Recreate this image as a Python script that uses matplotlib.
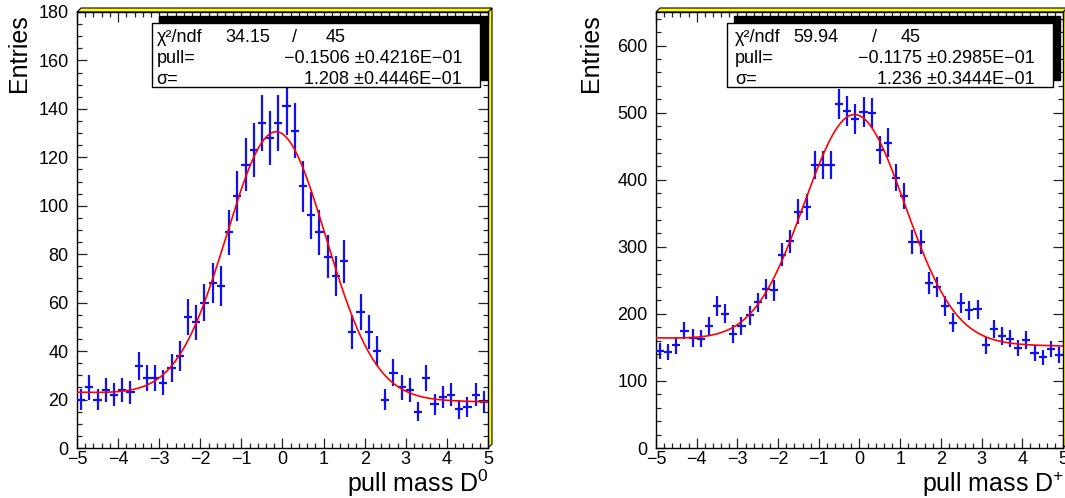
import numpy as np
import matplotlib.pyplot as plt
from matplotlib.patches import Polygon, Rectangle

plt.rcParams['font.family'] = ['Liberation Sans', 'DejaVu Sans']
plt.rcParams['mathtext.fontset'] = 'custom'
plt.rcParams['mathtext.rm'] = 'Liberation Sans'
plt.rcParams['mathtext.it'] = 'Liberation Sans'

W, H = 1065, 498

# bin centres of the pull histograms (50 bins from -5 to 5)
pull_bins = [-4.9, -4.7, -4.5, -4.3, -4.1, -3.9, -3.7, -3.5, -3.3, -3.1,
             -2.9, -2.7, -2.5, -2.3, -2.1, -1.9, -1.7, -1.5, -1.3, -1.1,
             -0.9, -0.7, -0.5, -0.3, -0.1, 0.1, 0.3, 0.5, 0.7, 0.9,
             1.1, 1.3, 1.5, 1.7, 1.9, 2.1, 2.3, 2.5, 2.7, 2.9,
             3.1, 3.3, 3.5, 3.7, 3.9, 4.1, 4.3, 4.5, 4.7, 4.9]

# entries
d0_entries = [20, 25, 20, 24, 22, 24, 23, 34, 29, 29,
              27, 33, 38, 54, 52, 60, 68, 67, 89, 104,
              117, 123, 134, 128, 134, 141, 131, 108, 96, 89,
              79, 71, 77, 48, 56, 48, 40, 20, 31, 25,
              24, 15, 29, 18, 21, 22, 16, 17, 22, 19]
dplus_entries = [144, 143, 153, 175, 164, 163, 182, 212, 200, 170,
                 182, 198, 217, 237, 235, 288, 308, 352, 359, 422,
                 422, 422, 513, 503, 490, 501, 499, 444, 455, 403,
                 376, 307, 307, 246, 240, 212, 187, 216, 205, 207,
                 153, 178, 167, 163, 149, 161, 142, 135, 148, 139]

# fit results (gaussian + linear background)
d0_fit = dict(mean=-0.1506, sigma=1.208, amp=109.5, bg0=21.0, bg1=-0.4)
dplus_fit = dict(mean=-0.1175, sigma=1.236, amp=339.0, bg0=158.0, bg1=-1.2)

# stat box texts
d0_stats = ['34.15', '45', '\u22120.1506 \u00b10.4216E\u221201', '1.208 \u00b10.4446E\u221201']
dplus_stats = ['59.94', '45', '\u22120.1175 \u00b10.2985E\u221201', '1.236 \u00b10.3444E\u221201']


def px(x, y):
    # figure pixel coords (top-left origin) -> figure fraction
    return (x / W, 1 - y / H)


def fit_curve(x, p):
    return p['amp'] * np.exp(-0.5 * ((x - p['mean']) / p['sigma']) ** 2) + p['bg0'] + p['bg1'] * x


def yellow_frame(fig, ax, b=4):
    bb = ax.get_position()
    bx, by = b / W, b / H
    x0, x1, y0, y1 = bb.x0, bb.x1, bb.y0, bb.y1
    right = Polygon([(x1, y0), (x1 + bx, y0 + by), (x1 + bx, y1 + by), (x1, y1)],
                    closed=True, transform=fig.transFigure, facecolor='yellow',
                    edgecolor='black', lw=0.8, zorder=0)
    top = Polygon([(x0, y1), (x0 + bx, y1 + by), (x1 + bx, y1 + by), (x1, y1)],
                  closed=True, transform=fig.transFigure, facecolor='yellow',
                  edgecolor='black', lw=0.8, zorder=0)
    fig.add_artist(right)
    fig.add_artist(top)


def stat_box(fig, box, cols, stats):
    bx0, by0, bx1, by1 = box
    sh = 7
    shadow = Rectangle(px(bx0 + sh, by1 - sh), (bx1 - bx0) / W, (by1 - by0) / H,
                       transform=fig.transFigure, facecolor='black', edgecolor='black', zorder=5)
    frame = Rectangle(px(bx0, by1), (bx1 - bx0) / W, (by1 - by0) / H,
                      transform=fig.transFigure, facecolor='white', edgecolor='black',
                      lw=1.0, zorder=6)
    fig.add_artist(shadow)
    fig.add_artist(frame)
    lab_x, chi_x, slash_x, ndf_x, val_x = cols
    base = [41.5, 63.0, 84.0]
    kw = dict(fontsize=13, va='baseline', zorder=7)
    fig.text(*px(lab_x, base[0]), '\u03c7\u00b2/ndf', ha='left', **kw)
    fig.text(*px(chi_x, base[0]), stats[0], ha='left', **kw)
    fig.text(*px(slash_x, base[0]), '/', ha='left', **kw)
    fig.text(*px(ndf_x, base[0]), stats[1], ha='left', **kw)
    fig.text(*px(lab_x, base[1]), 'pull=', ha='left', **kw)
    fig.text(*px(val_x, base[1]), stats[2], ha='right', **kw)
    fig.text(*px(lab_x, base[2]), '\u03c3=', ha='left', **kw)
    fig.text(*px(val_x, base[2]), stats[3], ha='right', **kw)


fig = plt.figure(figsize=(W / 100, H / 100), dpi=100)

panels = [
    dict(ax=(77, 488), entries=d0_entries, fit=d0_fit, ylim=180, major=20, minor=5,
         xlabel=r'pull mass D$^{0}$', ylab_x=19, box=(152, 23, 480, 87),
         cols=(156.5, 225, 292, 326, 462), stats=d0_stats),
    dict(ax=(656, 1063), entries=dplus_entries, fit=dplus_fit, ylim=650, major=100, minor=20,
         xlabel=r'pull mass D$^{+}$', ylab_x=591, box=(727, 23, 1053, 87),
         cols=(735, 793, 872, 901, 1035), stats=dplus_stats),
]

xfine = np.linspace(-5, 5, 500)
for p in panels:
    l, r = p['ax']
    ax = fig.add_axes([l / W, 1 - 448 / H, (r - l) / W, (448 - 12) / H])
    y = np.array(p['entries'], dtype=float)
    ax.errorbar(pull_bins, y, yerr=np.sqrt(y), xerr=0.1, fmt='none',
                ecolor='#1010f0', elinewidth=1.6, capsize=0, zorder=3)
    ax.plot(xfine, fit_curve(xfine, p['fit']), color='red', lw=1.2, zorder=4)
    ax.set_xlim(-5, 5)
    ax.set_ylim(0, p['ylim'])
    ax.set_xticks(np.arange(-5, 6, 1))
    ax.set_xticks(np.arange(-5, 5.01, 0.2), minor=True)
    ax.set_yticks(np.arange(0, p['ylim'] + 1, p['major']))
    ax.set_yticks(np.arange(0, p['ylim'] + 1, p['minor']), minor=True)
    ax.tick_params(which='both', direction='in', top=True, right=True, labelsize=13,
                   width=0.9, color='#222222')
    ax.tick_params(which='major', length=7)
    ax.tick_params(which='minor', length=3.5)
    ax.tick_params(axis='y', pad=6)
    ax.tick_params(axis='x', pad=2)
    for s in ax.spines.values():
        s.set_linewidth(1.0)
    yellow_frame(fig, ax)
    fig.text(*px(p['ylab_x'], 14), 'Entries', rotation=90, ha='center', va='top', fontsize=18)
    fig.text(*px(r + 1, 491.5), p['xlabel'], ha='right', va='baseline', fontsize=18)
    stat_box(fig, p['box'], p['cols'], p['stats'])

fig.savefig('out.png', dpi=100)
